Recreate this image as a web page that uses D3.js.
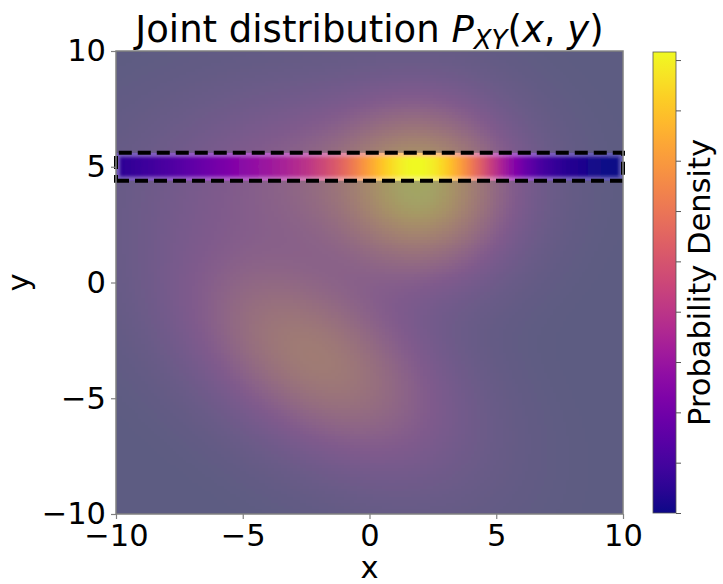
<!DOCTYPE html>
<html><head><meta charset="utf-8">
<script src="https://cdn.jsdelivr.net/npm/d3@7"></script>
<style>
body{margin:0;background:#fff;}
svg{display:block;font-family:"DejaVu Sans",sans-serif;}
</style>
</head><body>
<svg id="chart" width="723" height="584"></svg>
<script>
// ---------------- data ----------------
const xTicks = [-10, -5, 0, 5, 10];
const yTicks = [-10, -5, 0, 5, 10];
// Gaussian mixture components
const compWeight = [0.45, 0.60, 0.36];
const compMeanX  = [2.2, -2.2, -2.0];
const compMeanY  = [4.0, -3.2, 4.5];
const compSigmaX = [2.2, 3.4, 4.0];
const compSigmaY = [2.4, 3.0, 2.5];
const compRho    = [0.0, -0.5, 0.0];
const sliceY = 5;                 // conditioning value y = 5
const sliceBand = [4.5, 5.5];     // highlighted band (full colour)
const highlightBox = [4.4, 5.6];  // dashed rectangle
const cbTicks = [0, 1, 2, 3, 4, 5, 6, 7, 8, 9];
const cbMax = 9.16;
const gridN = 160;

// ---------------- layout ----------------
const svg = d3.select("#chart");
const plot = {left: 116, right: 623, top: 51, bottom: 514};
const x = d3.scaleLinear().domain([-10, 10]).range([plot.left, plot.right]);
const y = d3.scaleLinear().domain([-10, 10]).range([plot.bottom, plot.top]);

function density(px, py) {
  let s = 0;
  for (let i = 0; i < compWeight.length; i++) {
    const dx = (px - compMeanX[i]) / compSigmaX[i];
    const dy = (py - compMeanY[i]) / compSigmaY[i];
    const r = compRho[i];
    const q = (dx * dx - 2 * r * dx * dy + dy * dy) / (1 - r * r);
    s += compWeight[i] / (2 * Math.PI * compSigmaX[i] * compSigmaY[i] * Math.sqrt(1 - r * r)) * Math.exp(-q / 2);
  }
  return s;
}

const step = 20 / gridN;
const centers = d3.range(gridN).map(i => -10 + (i + 0.5) * step);
const cells = [];
centers.forEach(cx => centers.forEach(cy => cells.push({cx, cy, v: density(cx, cy)})));
const pMax = d3.max(cells, d => d.v);
const color = d3.scaleSequential(d3.interpolatePlasma).domain([0, pMax]);

const slice = centers.map(cx => ({cx, v: density(cx, sliceY)}));
const sMin = d3.min(slice, d => d.v), sMax = d3.max(slice, d => d.v);
const sliceColor = d3.scaleSequential(d3.interpolatePlasma).domain([sMin, sMax]);

const defs = svg.append("defs");
defs.append("clipPath").attr("id", "plotClip").append("rect")
  .attr("x", plot.left).attr("y", plot.top)
  .attr("width", plot.right - plot.left).attr("height", plot.bottom - plot.top);
const blur = defs.append("filter").attr("id", "soft")
  .attr("filterUnits", "userSpaceOnUse")
  .attr("x", plot.left - 10).attr("y", y(sliceBand[1]) - 10)
  .attr("width", plot.right - plot.left + 20).attr("height", y(sliceBand[0]) - y(sliceBand[1]) + 20);
blur.append("feGaussianBlur").attr("stdDeviation", 1.4);

const bandGrad = defs.append("linearGradient").attr("id", "bandGrad")
  .attr("gradientUnits", "userSpaceOnUse")
  .attr("x1", x(-10)).attr("x2", x(10)).attr("y1", 0).attr("y2", 0);
bandGrad.selectAll("stop").data(slice).join("stop")
  .attr("offset", d => (x(d.cx) - x(-10)) / (x(10) - x(-10)))
  .attr("stop-color", d => sliceColor(d.v));

const heat = svg.append("g").attr("clip-path", "url(#plotClip)");
heat.append("g").selectAll("rect").data(cells).join("rect")
  .attr("x", d => x(d.cx - step / 2))
  .attr("y", d => y(d.cy + step / 2))
  .attr("width", x(step) - x(0) + 0.6)
  .attr("height", y(0) - y(step) + 0.6)
  .attr("fill", d => color(d.v))
  .attr("shape-rendering", "crispEdges");

// gray veil everywhere except the highlighted box
heat.append("rect").attr("x", plot.left).attr("y", plot.top)
  .attr("width", plot.right - plot.left).attr("height", y(highlightBox[1]) - plot.top)
  .attr("fill", "#808080").attr("opacity", 0.7);
heat.append("rect").attr("x", plot.left).attr("y", y(highlightBox[0]))
  .attr("width", plot.right - plot.left).attr("height", plot.bottom - y(highlightBox[0]))
  .attr("fill", "#808080").attr("opacity", 0.7);
heat.append("rect").attr("x", plot.left).attr("y", y(highlightBox[1]))
  .attr("width", plot.right - plot.left).attr("height", y(highlightBox[0]) - y(highlightBox[1]))
  .attr("fill", "#ffffff").attr("opacity", 0.35);

// conditional slice band P(x | y = 5), own normalisation
heat.append("rect").attr("filter", "url(#soft)")
  .attr("x", x(-10) + 4).attr("width", x(10) - x(-10) - 8)
  .attr("y", y(sliceBand[1]) + 2)
  .attr("height", y(sliceBand[0]) - y(sliceBand[1]) - 4)
  .attr("fill", "url(#bandGrad)");

// dashed rectangle
const boxPath = d3.path();
boxPath.moveTo(x(-10), y(highlightBox[0]));
boxPath.lineTo(x(10), y(highlightBox[0]));
boxPath.lineTo(x(10), y(highlightBox[1]));
boxPath.lineTo(x(-10), y(highlightBox[1]));
boxPath.closePath();
svg.append("path").attr("d", boxPath.toString())
  .attr("fill", "none").attr("stroke", "#000").attr("stroke-width", 4)
  .attr("stroke-dasharray", "13,6");

// frame
svg.append("rect").attr("x", plot.left).attr("y", plot.top)
  .attr("width", plot.right - plot.left).attr("height", plot.bottom - plot.top)
  .attr("fill", "none").attr("stroke", "#808080").attr("stroke-width", 1.5);

// axes
const fmt = d => d3.format("d")(d).replace("-", "\u2212");
const xAxis = svg.append("g").attr("transform", `translate(0,${plot.bottom})`)
  .call(d3.axisBottom(x).tickValues(xTicks).tickSize(5).tickPadding(5).tickFormat(fmt));
const yAxis = svg.append("g").attr("transform", `translate(${plot.left},0)`)
  .call(d3.axisLeft(y).tickValues(yTicks).tickSize(5).tickPadding(5).tickFormat(fmt));
[xAxis, yAxis].forEach(a => {
  a.select(".domain").remove();
  a.selectAll(".tick line").attr("stroke", "#808080").attr("stroke-width", 1.2);
  a.selectAll(".tick text").attr("font-size", "30.5px").attr("font-family", "DejaVu Sans").attr("fill", "#000");
});

svg.append("text").attr("x", (plot.left + plot.right) / 2).attr("y", 578)
  .attr("text-anchor", "middle").attr("font-size", "30.5px").text("x");
svg.append("text").attr("transform", `translate(29,${(plot.top + plot.bottom) / 2}) rotate(-90)`)
  .attr("text-anchor", "middle").attr("font-size", "30.5px").text("y");

// title
const title = svg.append("text").attr("x", (plot.left + plot.right) / 2).attr("y", 42)
  .attr("text-anchor", "middle").attr("font-size", "37px");
title.append("tspan").text("Joint distribution ");
title.append("tspan").attr("font-style", "italic").text("P");
title.append("tspan").attr("font-style", "italic").attr("font-size", "26px").attr("dy", 7).text("XY");
title.append("tspan").attr("dy", -7).text("(");
title.append("tspan").attr("font-style", "italic").text("x");
title.append("tspan").text(", ");
title.append("tspan").attr("font-style", "italic").text("y");
title.append("tspan").text(")");

// colorbar
const cb = {x: 653, y: 52, w: 23, h: 461};
const cbScale = d3.scaleLinear().domain([0, cbMax]).range([cb.y + cb.h, cb.y]);
const grad = defs.append("linearGradient").attr("id", "cbGrad")
  .attr("x1", 0).attr("y1", 1).attr("x2", 0).attr("y2", 0);
d3.range(0, 1.0001, 0.05).forEach(t => grad.append("stop")
  .attr("offset", t).attr("stop-color", d3.interpolatePlasma(t)));
svg.append("rect").attr("x", cb.x).attr("y", cb.y).attr("width", cb.w).attr("height", cb.h)
  .attr("fill", "url(#cbGrad)").attr("stroke", "#555").attr("stroke-width", 0.8);
const cbAxis = svg.append("g").attr("transform", `translate(${cb.x + cb.w},0)`)
  .call(d3.axisRight(cbScale).tickValues(cbTicks).tickSize(5).tickFormat(""));
cbAxis.select(".domain").remove();
cbAxis.selectAll(".tick line").attr("stroke", "#555").attr("stroke-width", 1);
svg.append("text").attr("transform", `translate(710,${cb.y + cb.h / 2}) rotate(-90)`)
  .attr("text-anchor", "middle").attr("font-size", "30.5px").text("Probability Density");
</script>
</body></html>
